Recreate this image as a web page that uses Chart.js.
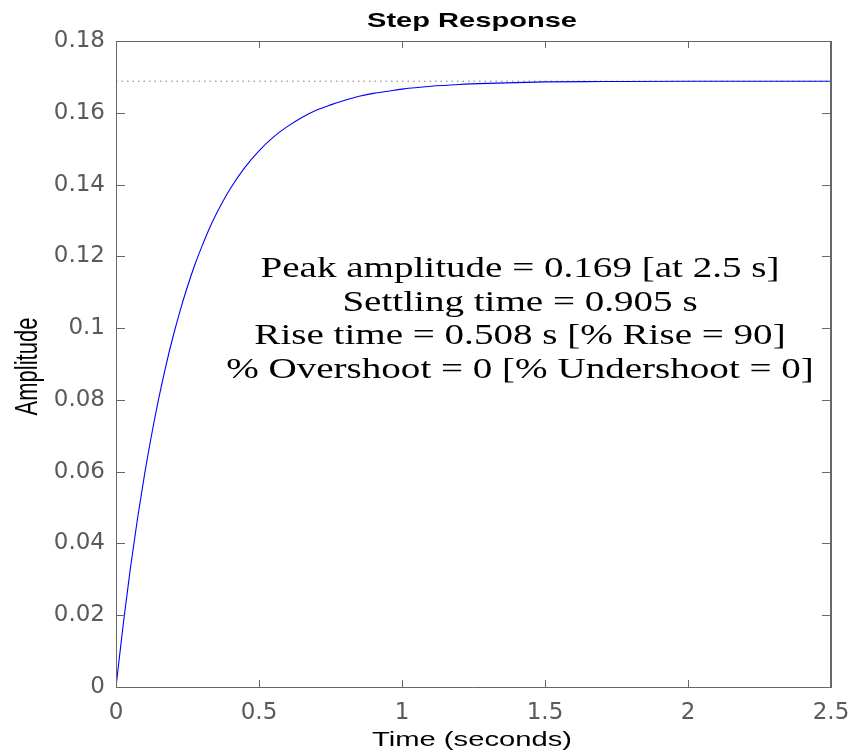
<!DOCTYPE html>
<html><head><meta charset="utf-8">
<script src="https://cdn.jsdelivr.net/npm/chart.js@4/dist/chart.umd.min.js"></script>
<style>html,body{margin:0;padding:0;background:#fff}#wrap{width:854px;height:756px;position:relative}</style>
</head><body><div id="wrap"><canvas id="c" width="854" height="756"></canvas></div>
<script>
// ---- data ----
const timeSeconds = [0,0.025,0.05,0.075,0.1,0.125,0.15,0.175,0.2,0.225,0.25,0.275,0.3,0.325,0.35,0.375,0.4,0.45,0.5,0.55,0.6,0.65,0.7,0.75,0.8,0.85,0.9,0.95,1.0,1.1,1.2,1.3,1.4,1.5,1.7,2.0,2.5];
const amplitude = [0,0.0173,0.0329,0.0468,0.0593,0.0705,0.0806,0.0897,0.0978,0.1051,0.1116,0.1175,0.1227,0.1275,0.1317,0.1355,0.1389,0.1447,0.1494,0.1532,0.1562,0.1587,0.1607,0.1622,0.1635,0.1646,0.1654,0.1660,0.1666,0.1674,0.1679,0.1682,0.1684,0.1686,0.1687,0.1688,0.1688];
const finalValueTimes = [0, 2.5];
const finalValue = [0.1688, 0.1688];
const xTickValues = [0,0.5,1,1.5,2,2.5];
const xTickLabels = ['0','0.5','1','1.5','2','2.5'];
const yTickValues = [0,0.02,0.04,0.06,0.08,0.1,0.12,0.14,0.16,0.18];
const yTickLabels = ['0','0.02','0.04','0.06','0.08','0.1','0.12','0.14','0.16','0.18'];
const titleText = 'Step Response';
const xAxisTitle = 'Time (seconds)';
const yAxisTitle = 'Amplitude';
const infoLines = ['Peak amplitude = 0.169 [at 2.5 s]','Settling time = 0.905 s','Rise time = 0.508 s [% Rise = 90]','% Overshoot = 0 [% Undershoot = 0]'];

const AXIS_COLOR = '#666666';
const TICK_TEXT = '#5a5a5a';

function toPoints(xs, ys){ return xs.map((x,i)=>({x:x, y:ys[i]})); }

function fitText(ctx, text, cx, by, font, targetW){
  ctx.save();
  ctx.font = font;
  const w = ctx.measureText(text).width;
  const s = targetW / w;
  ctx.translate(cx, by);
  ctx.scale(s, 1);
  ctx.textAlign = 'center';
  ctx.textBaseline = 'alphabetic';
  ctx.fillText(text, 0, 0);
  ctx.restore();
  return s;
}

const framePlugin = {
  id: 'frame',
  afterDraw(chart){
    const ctx = chart.ctx;
    const a = chart.chartArea;
    const xs = chart.scales.x, ys = chart.scales.y;
    ctx.save();
    ctx.strokeStyle = AXIS_COLOR;
    ctx.lineWidth = 1;
    ctx.beginPath();
    ctx.moveTo(a.left+0.5, a.top+0.5); ctx.lineTo(a.right, a.top+0.5);
    ctx.moveTo(a.left+0.5, a.top); ctx.lineTo(a.left+0.5, a.bottom+0.5);
    ctx.moveTo(a.left, a.bottom+0.5); ctx.lineTo(a.right, a.bottom+0.5);
    ctx.stroke();
    ctx.lineWidth = 2;
    ctx.beginPath();
    ctx.moveTo(a.right, a.top); ctx.lineTo(a.right, a.bottom+1);
    ctx.stroke();
    ctx.lineWidth = 1;
    ctx.beginPath();
    xs.ticks.forEach(t=>{
      const px = Math.round(xs.getPixelForValue(t.value))+0.5;
      ctx.moveTo(px, a.bottom); ctx.lineTo(px, a.bottom-7);
      ctx.moveTo(px, a.top); ctx.lineTo(px, a.top+7);
    });
    ys.ticks.forEach(t=>{
      const py = Math.round(ys.getPixelForValue(t.value))+0.5;
      ctx.moveTo(a.left, py); ctx.lineTo(a.left+9, py);
      ctx.moveTo(a.right, py); ctx.lineTo(a.right-9, py);
    });
    ctx.stroke();

    // texts
    ctx.fillStyle = '#000';
    const cx = (a.left + a.right)/2;
    fitText(ctx, titleText, cx - 1.5, 27.3, 'bold 21px "Liberation Sans", Arial, sans-serif', 210);
    fitText(ctx, xAxisTitle, cx - 1.5, 746, '21px "Liberation Sans", Arial, sans-serif', 200);

    ctx.save();
    ctx.font = '22px "Liberation Sans", Arial, sans-serif';
    ctx.translate(36.5, 366.5);
    ctx.rotate(-Math.PI/2);
    ctx.scale(1, 1.45);
    ctx.textAlign = 'center';
    ctx.textBaseline = 'alphabetic';
    ctx.fillText(yAxisTitle, 0, 0);
    ctx.restore();

    ctx.save();
    const infoFont = '29px "Liberation Serif", "Times New Roman", serif';
    ctx.font = infoFont;
    const s = 519 / ctx.measureText(infoLines[0]).width;
    const baselines = [277, 310.5, 344, 377.5];
    infoLines.forEach((ln,i)=>{
      ctx.save();
      ctx.font = infoFont;
      ctx.translate(520, baselines[i]);
      ctx.scale(s,1);
      ctx.textAlign='center';
      ctx.fillText(ln, 0, 0);
      ctx.restore();
    });
    ctx.restore();
    ctx.restore();
  }
};

new Chart(document.getElementById('c'), {
  type: 'line',
  data: {
    datasets: [
      { label: 'Step', data: toPoints(timeSeconds, amplitude), borderColor: '#0000ff', borderWidth: 1.1,
        pointRadius: 0, fill: false, cubicInterpolationMode: 'monotone', order: 1 },
      { label: 'Final', data: toPoints(finalValueTimes, finalValue), borderColor: '#7a7a7a', borderWidth: 1,
        borderDash: [1.5, 4], pointRadius: 0, fill: false, order: 2 }
    ]
  },
  options: {
    responsive: false, animation: false, devicePixelRatio: 1,
    layout: { padding: { top: 41, right: 23, left: 0, bottom: 0 } },
    plugins: { legend: { display: false }, tooltip: { enabled: false }, title: { display: false } },
    scales: {
      x: {
        type: 'linear', min: 0, max: 2.5,
        grid: { display: false, drawTicks: false },
        border: { display: false },
        afterBuildTicks: (sc)=>{ sc.ticks = xTickValues.map(v=>({value:v})); },
        afterFit: (sc)=>{ sc.height = 69; sc.paddingLeft = 0; sc.paddingRight = 0; },
        ticks: {
          autoSkip: false, maxRotation: 0, padding: 12, color: TICK_TEXT,
          font: { family: '"DejaVu Sans", sans-serif', size: 23 },
          callback: (v)=>{ const i = xTickValues.findIndex(t=>Math.abs(t-v)<1e-9); return i>=0 ? xTickLabels[i] : ''; }
        }
      },
      y: {
        type: 'linear', min: 0, max: 0.18,
        grid: { display: false, drawTicks: false },
        border: { display: false },
        afterBuildTicks: (sc)=>{ sc.ticks = yTickValues.map(v=>({value:v})); },
        afterFit: (sc)=>{ sc.width = 116; sc.paddingTop = 0; sc.paddingBottom = 0; },
        ticks: {
          autoSkip: false, padding: 11, color: TICK_TEXT,
          font: { family: '"DejaVu Sans", sans-serif', size: 23 },
          callback: (v)=>{ const i = yTickValues.findIndex(t=>Math.abs(t-v)<1e-9); return i>=0 ? yTickLabels[i] : ''; }
        }
      }
    }
  },
  plugins: [framePlugin]
});
</script></body></html>
